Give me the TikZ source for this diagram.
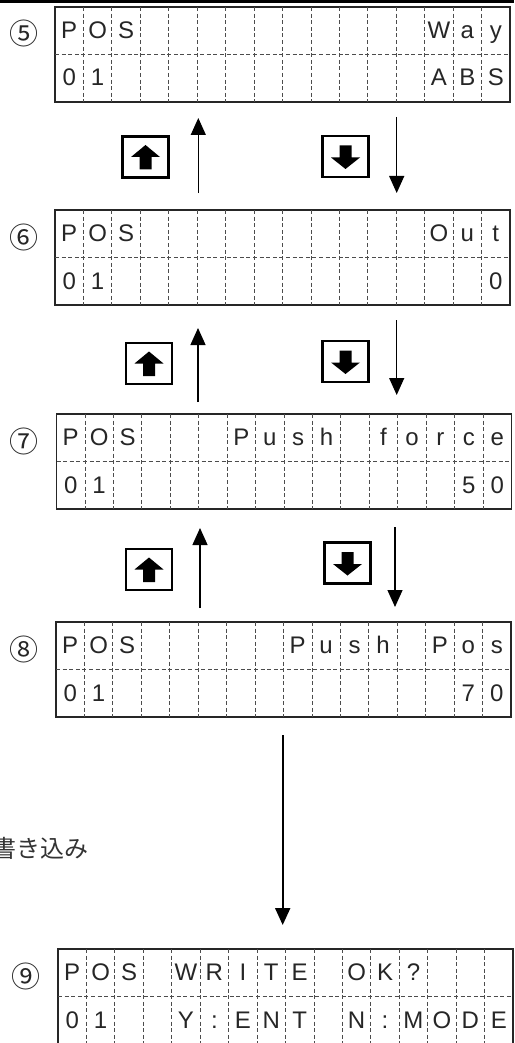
\documentclass[tikz,border=0pt]{standalone}
\usepackage{fontspec}
\newfontfamily\lcdfont{Liberation Sans}
\newfontfamily\jpfont{Noto Sans CJK JP}
\usetikzlibrary{arrows.meta,calc}
\tikzset{
  lcdframe/.style={draw=black!85, line width=1.3pt, minimum width=455pt, minimum height=95pt, inner sep=0pt, outer sep=0pt},
  lcddash/.style={draw=black!70, line width=0.8pt, dash pattern=on 4pt off 2.6pt},
  lcdchar/.style={font=\lcdfont\fontsize{24}{26}\selectfont, text=black!85, inner sep=0pt, anchor=base},
  circnum/.style={font=\jpfont\fontsize{29}{31}\selectfont, text=black!85, inner sep=0pt},
  keybox/.style={draw=black, line width=2.2pt, minimum width=46pt, minimum height=41pt, inner sep=0pt},
  flow/.style={line width=1.3pt, -{Triangle[width=15pt,length=17pt]}},
  bigflow/.style={line width=2pt, -{Triangle[width=15pt,length=17pt]}},
  jptext/.style={font=\jpfont\fontsize{24}{26}\selectfont, text=black!80, inner sep=0pt},
}
% #1 name, #2 x, #3 y, #4 row-1 cells, #5 row-2 cells ('-' = blank)
\newcommand\lcdpanel[5]{%
  \node[lcdframe, anchor=north west] (#1) at (#2,#3) {};
  \foreach \k in {1,...,15}
    \draw[lcddash] ($(#1.north west)+(\k*28.4375,0)$) -- ($(#1.south west)+(\k*28.4375,0)$);
  \draw[lcddash] (#1.west) -- (#1.east);
  \foreach \c [count=\i] in {#4}{%
    \if\c-\else
      \node[lcdchar] (#1-a\i) at ($(#1.north west)+({(\i-0.5)*28.4375},31.5)$) {\c};
    \fi}
  \foreach \c [count=\i] in {#5}{%
    \if\c-\else
      \node[lcdchar] (#1-b\i) at ($(#1.north west)+({(\i-0.5)*28.4375},79)$) {\c};
    \fi}
}
\newcommand\upicon[1]{%
  \fill[black, shift={(#1.center)}] (0,-12) -- (14.5,0) -- (6,0) -- (6,12.5) -- (-6,12.5) -- (-6,0) -- (-14.5,0) -- cycle;}
\newcommand\downicon[1]{%
  \fill[black, shift={(#1.center)}] (0,12.5) -- (14.5,1) -- (6,1) -- (6,-11) -- (-6,-11) -- (-6,1) -- (-14.5,1) -- cycle;}
\begin{document}
\begin{tikzpicture}[x=1pt,y=-1pt]
\useasboundingbox (0,0) rectangle (514,1043);
\clip (0,0) rectangle (514,1043);
\fill[black] (0,0) rectangle (514,2.7);

% panels
\lcdpanel{p5}{55}{7}{P,O,S,-,-,-,-,-,-,-,-,-,-,W,a,y}{0,1,-,-,-,-,-,-,-,-,-,-,-,A,B,S}
\lcdpanel{p6}{55}{210}{P,O,S,-,-,-,-,-,-,-,-,-,-,O,u,t}{0,1,-,-,-,-,-,-,-,-,-,-,-,-,-,0}
\lcdpanel{p7}{56.5}{414}{P,O,S,-,-,-,P,u,s,h,-,f,o,r,c,e}{0,1,-,-,-,-,-,-,-,-,-,-,-,-,5,0}
\lcdpanel{p8}{56}{622}{P,O,S,-,-,-,-,-,P,u,s,h,-,P,o,s}{0,1,-,-,-,-,-,-,-,-,-,-,-,-,7,0}
\lcdpanel{p9}{58}{949}{P,O,S,-,W,R,I,T,E,-,O,K,?,-,-,-}{0,1,-,-,Y,:,E,N,T,-,N,:,M,O,D,E}

% step numbers
\node[circnum] (n5) at (24,33.5) {⑤};
\node[circnum] (n6) at (24,237) {⑥};
\node[circnum] (n7) at (24,441) {⑦};
\node[circnum] (n8) at (24,649) {⑧};
\node[circnum] (n9) at (26,976) {⑨};

% key icons
\node[keybox] (k5u) at (145.5,157) {}; \upicon{k5u}
\node[keybox] (k5d) at (345.5,156.5) {}; \downicon{k5d}
\node[keybox] (k6u) at (149,363.5) {}; \upicon{k6u}
\node[keybox] (k6d) at (345.5,361.5) {}; \downicon{k6d}
\node[keybox] (k7u) at (149,569.5) {}; \upicon{k7u}
\node[keybox] (k7d) at (347.5,563) {}; \downicon{k7d}

% connectors
\coordinate (u5s) at (198.3,193); \coordinate (u5e) at (198.3,118);
\coordinate (d5s) at (396.7,117); \coordinate (d5e) at (396.7,193);
\coordinate (u6s) at (198,402);   \coordinate (u6e) at (198,328);
\coordinate (d6s) at (396.7,320); \coordinate (d6e) at (396.7,395);
\coordinate (u7s) at (200,608);   \coordinate (u7e) at (200,528);
\coordinate (d7s) at (395,527);   \coordinate (d7e) at (395,607);
\coordinate (w8s) at (282.7,735); \coordinate (w8e) at (282.7,925);
\draw[flow] (u5s) -- (u5e);
\draw[flow] (d5s) -- (d5e);
\draw[flow] (u6s) -- (u6e);
\draw[flow] (d6s) -- (d6e);
\draw[flow] (u7s) -- (u7e);
\draw[flow] (d7s) -- (d7e);
\draw[bigflow] (w8s) -- (w8e);

% label (cut off at the left edge, as in the reference)
\node[jptext, anchor=east] (wlabel) at (89,848) {書き込み};
\end{tikzpicture}
\end{document}
